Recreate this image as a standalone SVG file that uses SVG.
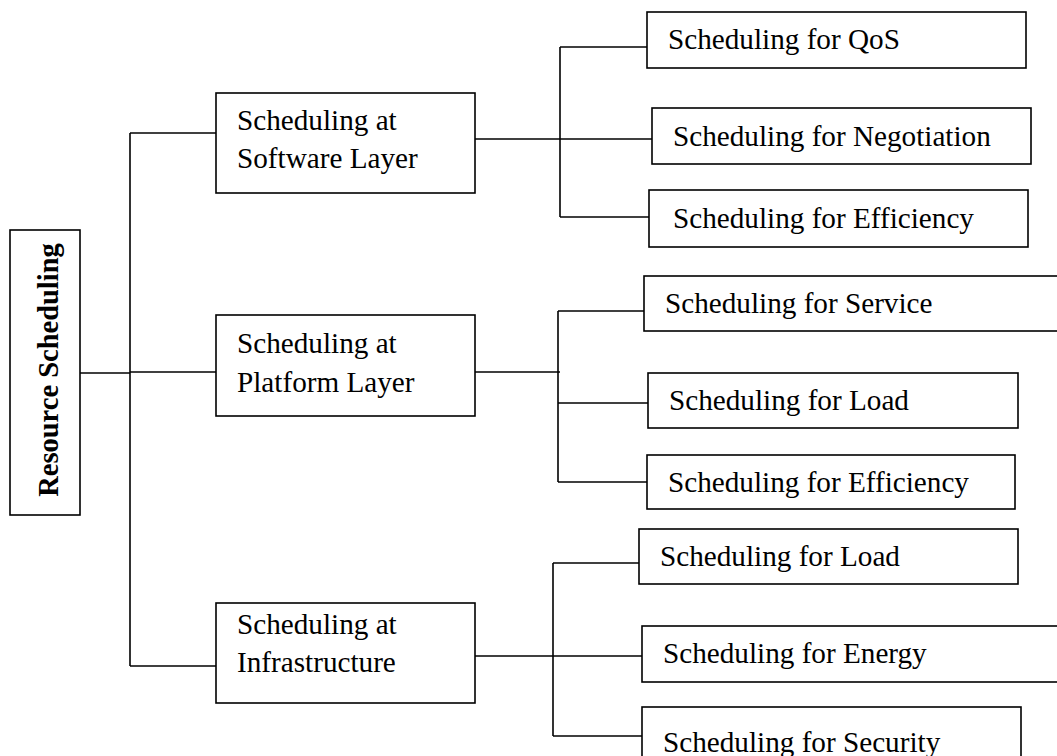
<svg xmlns="http://www.w3.org/2000/svg" width="1057" height="756" viewBox="0 0 1057 756">
  <style>
    .box { fill: #ffffff; stroke: #000000; stroke-width: 1.6; }
    .wire { fill: none; stroke: #000000; stroke-width: 1.6; }
    .lbl { font-family: "Liberation Serif", "Times New Roman", serif; font-size: 29.2px; fill: #000000; }
    .root { font-weight: bold; text-anchor: middle; font-size: 28.5px; }
  </style>
  <rect width="1057" height="756" fill="#ffffff"/>

  <!-- connectors -->
  <g id="connectors" class="wire">
    <!-- root to layer trunk -->
    <path d="M80 373 H130"/>
    <path d="M130 133 V666"/>
    <path d="M130 133 H216"/>
    <path d="M130 372 H216"/>
    <path d="M130 666 H216"/>
    <!-- software layer branch -->
    <path d="M475 139 H652"/>
    <path d="M560 47 V217"/>
    <path d="M560 47 H647"/>
    <path d="M560 217 H649"/>
    <!-- platform layer branch -->
    <path d="M475 372 H560"/>
    <path d="M558 311 V482"/>
    <path d="M558 311 H644"/>
    <path d="M558 403 H648"/>
    <path d="M558 482 H647"/>
    <!-- infrastructure branch -->
    <path d="M475 656 H642"/>
    <path d="M553 563 V736"/>
    <path d="M553 563 H639"/>
    <path d="M553 736 H642"/>
  </g>

  <!-- root -->
  <g id="resource-scheduling">
    <rect class="box" x="10" y="230" width="70" height="285"/>
    <text class="lbl root" transform="translate(57.5 370) rotate(-90)">Resource Scheduling</text>
  </g>

  <!-- layers -->
  <g id="software-layer">
    <rect class="box" x="216" y="93" width="259" height="100"/>
    <text class="lbl" x="237" y="130">Scheduling at</text>
    <text class="lbl" x="237" y="168">Software Layer</text>
  </g>
  <g id="platform-layer">
    <rect class="box" x="216" y="315" width="259" height="101"/>
    <text class="lbl" x="237" y="353">Scheduling at</text>
    <text class="lbl" x="237" y="392">Platform Layer</text>
  </g>
  <g id="infrastructure-layer">
    <rect class="box" x="216" y="603" width="259" height="100"/>
    <text class="lbl" x="237" y="634">Scheduling at</text>
    <text class="lbl" x="237" y="672">Infrastructure</text>
  </g>

  <!-- software layer leaves -->
  <g id="sw-qos">
    <rect class="box" x="647" y="12" width="379" height="56"/>
    <text class="lbl" x="668" y="49">Scheduling for QoS</text>
  </g>
  <g id="sw-negotiation">
    <rect class="box" x="652" y="108" width="379" height="56"/>
    <text class="lbl" x="673" y="146">Scheduling for Negotiation</text>
  </g>
  <g id="sw-efficiency">
    <rect class="box" x="649" y="190" width="379" height="57"/>
    <text class="lbl" x="673" y="228">Scheduling for Efficiency</text>
  </g>

  <!-- platform layer leaves -->
  <g id="pf-service">
    <rect class="box" x="644" y="276" width="430" height="55"/>
    <text class="lbl" x="665" y="313">Scheduling for Service</text>
  </g>
  <g id="pf-load">
    <rect class="box" x="648" y="373" width="370" height="55"/>
    <text class="lbl" x="669" y="410">Scheduling for Load</text>
  </g>
  <g id="pf-efficiency">
    <rect class="box" x="647" y="455" width="368" height="54"/>
    <text class="lbl" x="668" y="492">Scheduling for Efficiency</text>
  </g>

  <!-- infrastructure leaves -->
  <g id="inf-load">
    <rect class="box" x="639" y="529" width="379" height="55"/>
    <text class="lbl" x="660" y="566">Scheduling for Load</text>
  </g>
  <g id="inf-energy">
    <rect class="box" x="642" y="626" width="430" height="56"/>
    <text class="lbl" x="663" y="663">Scheduling for Energy</text>
  </g>
  <g id="inf-security">
    <rect class="box" x="642" y="707" width="379" height="70"/>
    <text class="lbl" x="663" y="752">Scheduling for Security</text>
  </g>
</svg>
